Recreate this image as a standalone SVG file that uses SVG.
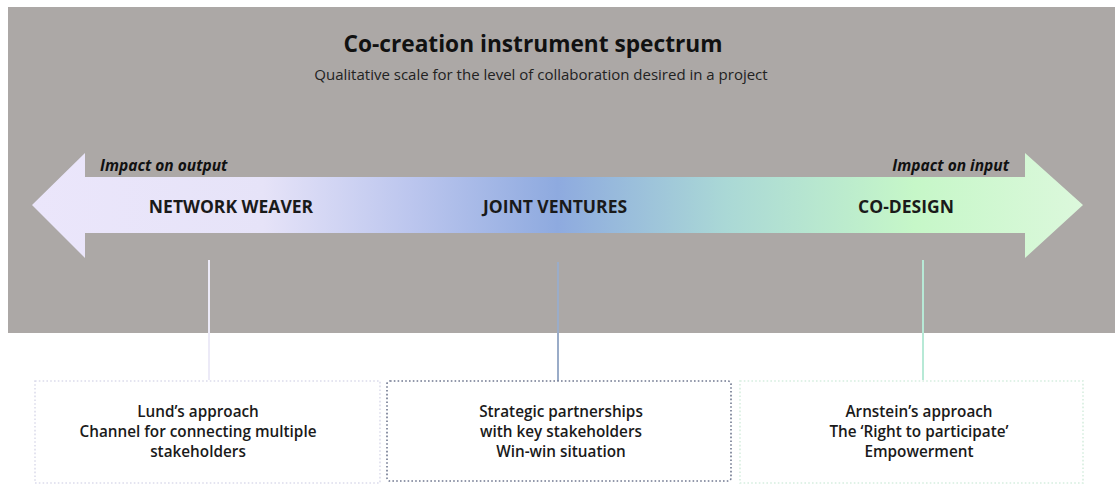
<svg xmlns="http://www.w3.org/2000/svg" width="1115" height="496" viewBox="0 0 1115 496">
<style>
.t{font-family:"Open Sans","Noto Sans","Liberation Sans",sans-serif;fill:#111}
.title{font-size:22.7px;font-weight:700;text-anchor:middle}
.sub{font-size:15px;text-anchor:middle;fill:#222}
.imp{font-size:15.5px;font-weight:700;font-style:italic}
.lab{font-size:17.5px;font-weight:700;text-anchor:middle;fill:#1a1a1a}
.box{font-size:15.3px;font-weight:600;text-anchor:middle;fill:#1a1a1a}
.bx{fill:#fff;stroke-width:1.6;stroke-dasharray:1.6 2.2}
</style>
<defs>
<linearGradient id="ag" x1="32" y1="0" x2="1083" y2="0" gradientUnits="userSpaceOnUse">
<stop offset="0" stop-color="#ebe6fb"/>
<stop offset="0.22" stop-color="#e6e3f8"/>
<stop offset="0.36" stop-color="#bcc6ee"/>
<stop offset="0.5" stop-color="#8eaadf"/>
<stop offset="0.66" stop-color="#aad8d6"/>
<stop offset="0.84" stop-color="#c6f7c8"/>
<stop offset="1" stop-color="#dcf8dc"/>
</linearGradient>
</defs>
<rect x="0" y="0" width="1115" height="496" fill="#fff"/>
<rect id="bg" x="8" y="7" width="1107" height="326" fill="#aca8a6"/>
<g id="header">
<text class="t title" x="533" y="52">Co-creation instrument spectrum</text>
<text class="t sub" x="541" y="80">Qualitative scale for the level of collaboration desired in a project</text>
</g>
<g id="arrow">
<polygon points="32,205 85,153 85,177 1025,177 1025,153 1083,205 1025,258 1025,233 85,233 85,258" fill="url(#ag)"/>
<text class="t imp" x="100" y="171">Impact on output</text>
<text class="t imp" x="1009" y="171" text-anchor="end">Impact on input</text>
</g>
<g id="network-weaver"><text class="t lab" x="231" y="213">NETWORK WEAVER</text></g>
<g id="joint-ventures"><text class="t lab" x="555" y="213">JOINT VENTURES</text></g>
<g id="co-design"><text class="t lab" x="906" y="213">CO-DESIGN</text></g>
<g id="connectors" stroke-width="2">
<line x1="209" y1="260" x2="209" y2="380" stroke="#eceaf7"/>
<line x1="558" y1="262" x2="558" y2="381" stroke="#9aacc8"/>
<line x1="923" y1="260" x2="923" y2="380" stroke="#b7e9d6"/>
</g>
<g id="box-lund">
<rect class="bx" x="35" y="381" width="345" height="102" stroke="#dcdcec"/>
<text class="t box" x="198" y="417">Lund’s approach</text>
<text class="t box" x="198" y="437">Channel for connecting multiple</text>
<text class="t box" x="198" y="457">stakeholders</text>
</g>
<g id="box-strategic">
<rect class="bx" x="387" y="381" width="344" height="100" rx="3" stroke="#707890"/>
<text class="t box" x="561" y="417">Strategic partnerships</text>
<text class="t box" x="561" y="437">with key stakeholders</text>
<text class="t box" x="561" y="457">Win-win situation</text>
</g>
<g id="box-arnstein">
<rect class="bx" x="740" y="381" width="343" height="102" stroke="#d6eedf"/>
<text class="t box" x="919" y="417">Arnstein’s approach</text>
<text class="t box" x="919" y="437">The ‘Right to participate’</text>
<text class="t box" x="919" y="457">Empowerment</text>
</g>
</svg>
